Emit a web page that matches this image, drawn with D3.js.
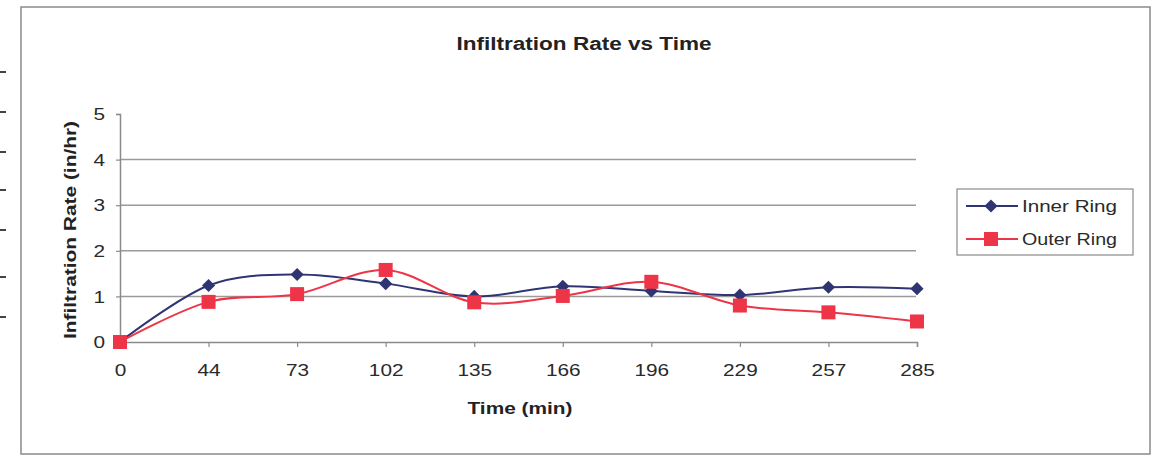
<!DOCTYPE html>
<html><head><meta charset="utf-8">
<script src="https://cdn.jsdelivr.net/npm/d3@7"></script>
<style>body{margin:0;background:#fff;}svg{display:block;font-family:"Liberation Sans",Arial,sans-serif;}</style>
</head><body>
<svg id="c" width="1157" height="458"></svg>
<script>
const categories = ["0","44","73","102","135","166","196","229","257","285"];
const innerRing = [0, 1.24, 1.48, 1.28, 1.0, 1.22, 1.12, 1.03, 1.2, 1.17];
const outerRing = [0, 0.88, 1.05, 1.58, 0.87, 1.01, 1.32, 0.8, 0.65, 0.45];
const yTicks = [0,1,2,3,4,5];
const seriesNames = ["Inner Ring","Outer Ring"];
const seriesColors = ["#2f3573","#ee3548"];
const rulerMarks = [72,112,152,190,230,277,317];

const svg = d3.select("#c");
svg.selectAll("line.r").data(rulerMarks).enter().append("line")
  .attr("x1",0).attr("x2",6).attr("y1",d=>d).attr("y2",d=>d)
  .attr("stroke","#444").attr("stroke-width",2);
svg.append("rect").attr("x",21).attr("y",7).attr("width",1129).attr("height",447)
  .attr("fill","none").attr("stroke","#8a8a8a").attr("stroke-width",1.5);

const x = d3.scalePoint().domain(categories).range([120,917]);
const y = d3.scaleLinear().domain([0,5]).range([342,114]);

svg.selectAll("line.g").data(yTicks.filter(d=>d>0 && d<5)).enter().append("line")
  .attr("x1",120).attr("x2",916).attr("y1",d=>y(d)).attr("y2",d=>y(d))
  .attr("stroke","#9a9a9a").attr("stroke-width",1.5);

const SX = 1.3;
const ya = svg.append("g").attr("transform","translate(120,0)")
  .call(d3.axisLeft(y).tickValues(yTicks).tickSize(4).tickFormat(d3.format("d")));
const xa = svg.append("g").attr("transform","translate(0,342)")
  .call(d3.axisBottom(x).tickSize(5));
[ya,xa].forEach(a=>{
  a.select(".domain").attr("stroke","#8a8a8a").attr("stroke-width",1.5);
  a.selectAll(".tick line").attr("stroke","#8a8a8a").attr("stroke-width",1.2);
  a.selectAll("text").attr("font-size",16).attr("fill","#2a2a2a")
    .attr("font-family","Liberation Sans, Arial, sans-serif")
    .attr("transform",`scale(${SX},1)`);
});
ya.selectAll("text").attr("x",-15/SX).attr("dy","0.35em");
xa.selectAll("text").attr("y",28).attr("dy","0.35em");

const series = [innerRing, outerRing];
const line = d3.line().x((d,i)=>x(categories[i])).y(d=>y(d)).curve(d3.curveCatmullRom.alpha(0));
series.forEach((s,k)=>{
  svg.append("path").datum(s).attr("d",line).attr("fill","none")
    .attr("stroke",seriesColors[k]).attr("stroke-width",2);
});
const diamond = d3.symbol().type(d3.symbolDiamond2).size(110);
svg.selectAll("path.m0").data(innerRing).enter().append("path")
  .attr("d",diamond).attr("transform",(d,i)=>`translate(${x(categories[i])},${y(d)})`)
  .attr("fill",seriesColors[0]);
svg.selectAll("rect.m1").data(outerRing).enter().append("rect")
  .attr("x",(d,i)=>x(categories[i])-7).attr("y",d=>y(d)-7).attr("width",14).attr("height",14)
  .attr("fill",seriesColors[1]);

function label(txt, xx, yy, w, size, bold, rot){
  const t = svg.append("text").attr("text-anchor","middle")
    .attr("font-size",size).attr("font-weight",bold?"bold":"normal").attr("fill","#222")
    .attr("textLength",w).attr("lengthAdjust","spacingAndGlyphs").text(txt);
  if(rot) t.attr("transform",`translate(${xx},${yy}) rotate(-90)`);
  else t.attr("x",xx).attr("y",yy);
  return t;
}
label("Infiltration Rate vs Time", 584, 50, 255, 18, true);
label("Time (min)", 520, 414, 105, 17, true);
label("Infiltration Rate (in/hr)", 76, 230, 218, 17, true, true);

const lg = svg.append("g");
lg.append("rect").attr("x",957).attr("y",189).attr("width",176).attr("height",66)
  .attr("fill","#fff").attr("stroke","#8a8a8a").attr("stroke-width",1.2);
seriesNames.forEach((n,k)=>{
  const cy = 206 + k*33;
  lg.append("line").attr("x1",966).attr("x2",1018).attr("y1",cy).attr("y2",cy)
    .attr("stroke",seriesColors[k]).attr("stroke-width",2);
  if(k===0){
    lg.append("path").attr("d",diamond).attr("transform",`translate(991,${cy})`).attr("fill",seriesColors[0]);
  } else {
    lg.append("rect").attr("x",984).attr("y",cy-7).attr("width",14).attr("height",14).attr("fill",seriesColors[1]);
  }
  lg.append("text").attr("x",1022).attr("y",cy+6).attr("font-size",16).attr("fill","#2a2a2a")
    .attr("textLength",95).attr("lengthAdjust","spacingAndGlyphs").text(n);
});
</script>
</body></html>
